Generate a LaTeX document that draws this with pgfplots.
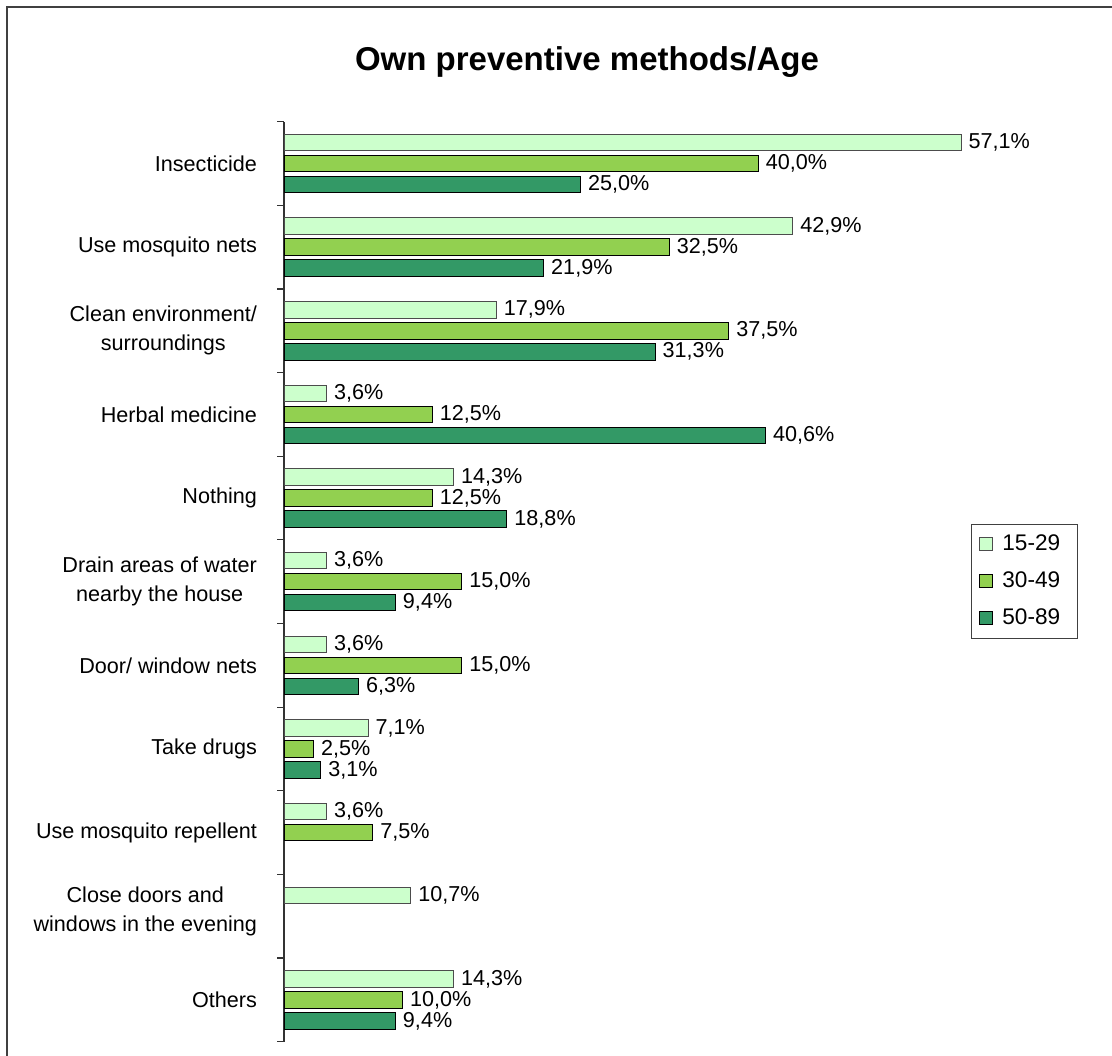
\documentclass[border=0pt]{standalone}
\usepackage{fontspec}
\setmainfont{Liberation Sans}
\usepackage{pgfplots}
\pgfplotsset{compat=1.18}
\definecolor{cA}{HTML}{CCFFCC}
\definecolor{cB}{HTML}{92D050}
\definecolor{cC}{HTML}{339966}
\begin{document}
\begin{tikzpicture}
\useasboundingbox (0,0) rectangle (556pt,-527.5pt);
\clip (0,0) rectangle (556pt,-527.5pt);
\draw[line width=1pt, black!75] (3.3pt,-600pt) -- (3.3pt,-3.4pt) -- (600pt,-3.4pt);
\node[font=\fontsize{16.5}{20}\selectfont\bfseries] at (293.5pt,-31pt) {Own preventive methods/Age};
\begin{axis}[
  at={(142pt,-520.85pt)}, anchor=south west,
  scale only axis, width=355.8pt, height=460pt,
  xmin=0, xmax=60, ymin=-0.5, ymax=10.5,
  clip=false,
  axis x line=none, axis y line=left,
  axis line style={-, black!80, line width=0.6pt},
  xtick=\empty,
  ytick={0,1,2,3,4,5,6,7,8,9,10}, major tick length=0pt,
  minor ytick={-0.5,0.5,1.5,2.5,3.5,4.5,5.5,6.5,7.5,8.5,9.5,10.5},
  minor tick length=3.5pt, tick align=outside,
  minor tick style={black!80, line width=0.6pt},
  yticklabels={Others,
    {\raisebox{16.5pt}{\begin{tabular}{@{}c@{}}Close doors and\\windows in the evening\end{tabular}}},
    Use mosquito repellent, Take drugs, Door/ window nets,
    {Drain areas of water\\nearby the house}, Nothing, Herbal medicine,
    {Clean environment/\\surroundings}, Use mosquito nets, Insecticide},
  yticklabel style={align=center, font=\fontsize{10.8}{14.5}\selectfont, xshift=-10pt},
  xbar, bar width=8.25pt,
  point meta=x,
  nodes near coords={\pgfmathprintnumber[fixed,fixed zerofill,precision=1,use comma,assume math mode=true]{\pgfplotspointmeta}\%},
  nodes near coords style={font=\fontsize{10.8}{13}\selectfont, anchor=west, inner sep=3.5pt, black},
  legend style={at={(0.9654,0.5627)}, anchor=north west, draw=black!75,
    font=\fontsize{11.3}{13}\selectfont, row sep=4.5pt, inner xsep=4pt, inner ysep=3pt,
    nodes={inner ysep=2pt, inner xsep=4.5pt, text height=8pt, text depth=2pt}},
  legend cell align=left,
  legend image code/.code={\draw[#1] (0pt,-3.25pt) rectangle (6.5pt,3.25pt);},
]
\addplot[fill=cA, draw=black!70, line width=0.5pt, bar shift=10.5pt] coordinates {
(57.1,10) (42.9,9) (17.9,8) (3.6,7) (14.3,6) (3.6,5) (3.6,4) (7.1,3) (3.6,2) (10.7,1) (14.3,0)};
\addplot[fill=cB, draw=black, line width=0.5pt, bar shift=0pt] coordinates {
(40.0,10) (32.5,9) (37.5,8) (12.5,7) (12.5,6) (15.0,5) (15.0,4) (2.5,3) (7.5,2) (10.0,0)};
\addplot[fill=cC, draw=black, line width=0.5pt, bar shift=-10.5pt] coordinates {
(25.0,10) (21.9,9) (31.3,8) (40.6,7) (18.8,6) (9.4,5) (6.3,4) (3.1,3) (9.4,0)};
\legend{15-29,30-49,50-89}
\end{axis}
\end{tikzpicture}
\end{document}
